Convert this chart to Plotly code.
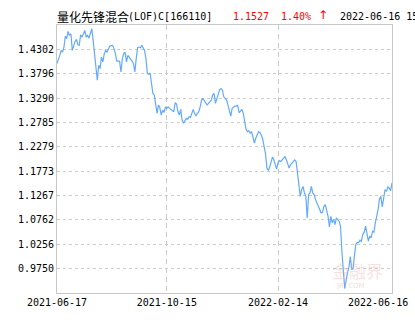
import plotly.graph_objects as go

# trading-day index (0 = 2021-06-17, 241 = 2022-06-16) and net asset value
day_index = [
    0, 1, 2, 3, 4, 5, 6, 7, 8, 9, 10, 11, 12, 13, 14, 15, 16, 17, 18, 19,
    20, 21, 22, 23, 24, 25, 26, 27, 28, 29, 30, 31, 32, 33, 34, 35, 36, 37, 38, 40,
    41, 42, 43, 45, 46, 47, 48, 49, 50, 51, 52, 53, 54, 55, 56, 57, 58, 59, 60, 61,
    62, 63, 64, 65, 66, 67, 68, 69, 70, 71, 72, 73, 74, 75, 76, 77, 78, 79, 80, 81,
    83, 84, 85, 86, 87, 88, 89, 90, 91, 92, 93, 94, 95, 96, 97, 98, 99, 100, 101, 102,
    103, 104, 105, 106, 107, 108, 109, 110, 111, 112, 113, 114, 115, 116, 117, 118, 119, 120, 121, 122,
    123, 124, 125, 126, 127, 128, 129, 130, 131, 132, 133, 134, 135, 136, 137, 138, 139, 140, 141, 142,
    143, 144, 145, 146, 147, 148, 149, 150, 151, 152, 153, 154, 155, 156, 157, 158, 159, 160, 161, 162,
    163, 164, 165, 166, 167, 168, 169, 170, 171, 172, 173, 174, 175, 176, 177, 178, 179, 180, 181, 182,
    183, 184, 185, 186, 188, 189, 190, 191, 192, 193, 194, 195, 196, 197, 198, 199, 200, 201, 202, 203,
    204, 205, 207, 208, 209, 210, 211, 212, 213, 214, 215, 216, 217, 218, 219, 220, 221, 222, 223, 224,
    225, 226, 227, 228, 229, 230, 231, 232, 233, 234, 235, 236, 237, 238, 239, 240, 241,
]
nav = [
    1.4007, 1.4075, 1.4178, 1.4281, 1.4246, 1.4350, 1.4577, 1.4523, 1.4674, 1.4591,
    1.4626, 1.4281, 1.4385, 1.4467, 1.4509, 1.4399, 1.4385, 1.4606, 1.4556, 1.4626,
    1.4695, 1.4556, 1.4591, 1.4535, 1.4659, 1.4730, 1.4488, 1.4178, 1.3903, 1.3662,
    1.3971, 1.3903, 1.4143, 1.4040, 1.4213, 1.4281, 1.4246, 1.4316, 1.4370, 1.4385,
    1.4323, 1.4213, 1.4060, 1.4060, 1.3833, 1.4110, 1.4213, 1.4246, 1.4040, 1.4178,
    1.4143, 1.4110, 1.4060, 1.4007, 1.3833, 1.4110, 1.4337, 1.4350, 1.4337, 1.4385,
    1.4337, 1.4281, 1.4110, 1.3800, 1.3786, 1.3812, 1.3593, 1.3387, 1.3352, 1.3110,
    1.2974, 1.3145, 1.3089, 1.2938, 1.3042, 1.2994, 1.3110, 1.3077, 1.3110, 1.3077,
    1.3042, 1.3007, 1.3193, 1.3166, 1.3007, 1.2938, 1.3056, 1.2835, 1.2767, 1.2821,
    1.2870, 1.2850, 1.2903, 1.2891, 1.2986, 1.3056, 1.2974, 1.2918, 1.2974, 1.3007,
    1.3110, 1.3248, 1.3283, 1.3234, 1.3213, 1.3145, 1.3180, 1.3213, 1.3248, 1.3352,
    1.3387, 1.3180, 1.3283, 1.3387, 1.3469, 1.3490, 1.3455, 1.3317, 1.3283, 1.3248,
    1.3145, 1.3007, 1.2918, 1.3077, 1.3110, 1.3124, 1.3124, 1.3139, 1.2986, 1.3027,
    1.3056, 1.2974, 1.2800, 1.2643, 1.2593, 1.2614, 1.2560, 1.2593, 1.2478, 1.2354,
    1.2457, 1.2525, 1.2593, 1.2573, 1.2525, 1.2436, 1.2284, 1.2133, 1.1837, 1.1788,
    1.1858, 1.1953, 1.2065, 1.2009, 1.1885, 1.1817, 1.1941, 1.1994, 1.1974, 1.2009,
    1.2044, 1.2077, 1.2009, 1.1905, 1.1837, 1.1905, 1.1941, 1.1994, 1.2009, 1.1974,
    1.1767, 1.1527, 1.1251, 1.1389, 1.1457, 1.1321, 1.1251, 1.0804, 1.1286, 1.1321,
    1.1457, 1.1321, 1.1286, 1.1182, 1.1044, 1.0941, 1.0908, 1.0920, 1.1044, 1.1079,
    1.0941, 1.0837, 1.0618, 1.0837, 1.0701, 1.0769, 1.0666, 1.0804, 1.0769, 1.0734,
    1.0618, 1.0081, 0.9337, 0.9530, 0.9668, 0.9777, 0.9999, 0.9736, 0.9751, 1.0025,
    1.0253, 1.0300, 1.0288, 1.0341, 1.0321, 1.0459, 1.0507, 1.0631, 1.0494, 1.0321,
    1.0424, 1.0391, 1.0527, 1.0507, 1.0701, 1.0837, 1.0976, 1.1197, 1.1251, 1.1032,
    1.1251, 1.1389, 1.1354, 1.1445, 1.1420, 1.1368, 1.1527,
]

y_tick_values = [0.9750, 1.0256, 1.0762, 1.1267, 1.1773, 1.2279, 1.2785, 1.3290, 1.3796, 1.4302]
y_tick_labels = ["0.9750", "1.0256", "1.0762", "1.1267", "1.1773",
                 "1.2279", "1.2785", "1.3290", "1.3796", "1.4302"]
y_range = [0.9244, 1.4808]

x_tick_positions = [0, 79, 159, 241]
x_tick_labels = ["2021-06-17", "2021-10-15", "2022-02-14", "2022-06-16"]

fund_name = "量化先锋混合"
fund_code = "(LOF)C[166110]"
latest_nav = "1.1527"
latest_change = "1.40%"
latest_arrow = "↑"
latest_date = "2022-06-16 15:00"

MONO = "DejaVu Sans Mono"
CJK = "Noto Sans CJK SC"

fig = go.Figure()
fig.add_trace(go.Scatter(
    x=day_index, y=nav, mode="lines",
    line=dict(color="#62aaff", width=1.2),
    hoverinfo="skip", showlegend=False,
))

W, H = 415, 330
L, R, T, B = 57, 23, 25, 37
pw, ph = W - L - R, H - T - B


def px_x(px):
    return (px - L) / pw


def px_y(py):
    return (H - B - py) / ph


annotations = [
    dict(text=fund_name, x=px_x(55), y=px_y(16), xanchor="left", yanchor="middle",
         font=dict(family=CJK, size=12, color="#000000")),
    dict(text=fund_code, x=px_x(126), y=px_y(16), xanchor="left", yanchor="middle",
         font=dict(family=MONO, size=10, color="#000000")),
    dict(text=latest_nav, x=px_x(231), y=px_y(16), xanchor="left", yanchor="middle",
         font=dict(family=MONO, size=10, color="#ff0000")),
    dict(text=latest_change, x=px_x(279), y=px_y(16), xanchor="left", yanchor="middle",
         font=dict(family=MONO, size=10, color="#ff0000")),
    dict(text=latest_arrow, x=px_x(316), y=px_y(15), xanchor="left", yanchor="middle",
         font=dict(family="DejaVu Sans", size=12, color="#ff0000")),
    dict(text=latest_date, x=px_x(338), y=px_y(16), xanchor="left", yanchor="middle",
         font=dict(family=MONO, size=10, color="#000000")),
    # last x label shifted left to stay inside the canvas
    dict(text=x_tick_labels[-1], x=px_x(410), y=px_y(302), xanchor="right", yanchor="middle",
         font=dict(family=MONO, size=10, color="#000000")),
    # watermark
    dict(text="金融界", x=px_x(357), y=px_y(270), xanchor="center", yanchor="middle",
         font=dict(family=CJK, size=17, color="rgba(225,170,170,0.35)")),
    dict(text="JRJ.COM", x=px_x(350), y=px_y(286), xanchor="center", yanchor="middle",
         font=dict(family="DejaVu Sans", size=7, color="rgba(225,170,170,0.45)")),
]
for a in annotations:
    a.update(xref="paper", yref="paper", showarrow=False)

fig.update_layout(
    width=W, height=H,
    margin=dict(l=L, r=R, t=T, b=B, pad=0),
    paper_bgcolor="#ffffff", plot_bgcolor="#ffffff",
    annotations=annotations,
    xaxis=dict(
        range=[0, 241],
        tickmode="array", tickvals=x_tick_positions[:3], ticktext=x_tick_labels[:3],
        showgrid=True, gridcolor="#c8c8c8", griddash="5px,4px", gridwidth=1,
        showline=True, linecolor="#c8c8c8", linewidth=1, mirror=True,
        zeroline=False, ticks="", ticklen=0,
        tickfont=dict(family=MONO, size=10, color="#000000"),
    ),
    yaxis=dict(
        range=y_range,
        tickmode="array", tickvals=y_tick_values, ticktext=y_tick_labels,
        showgrid=True, gridcolor="#cccccc", griddash="3px,3px", gridwidth=1,
        showline=True, linecolor="#c8c8c8", linewidth=1, mirror=True,
        zeroline=False, ticks="", ticklen=0,
        tickfont=dict(family=MONO, size=10, color="#000000"),
    ),
)

fig.write_html("out.html")
